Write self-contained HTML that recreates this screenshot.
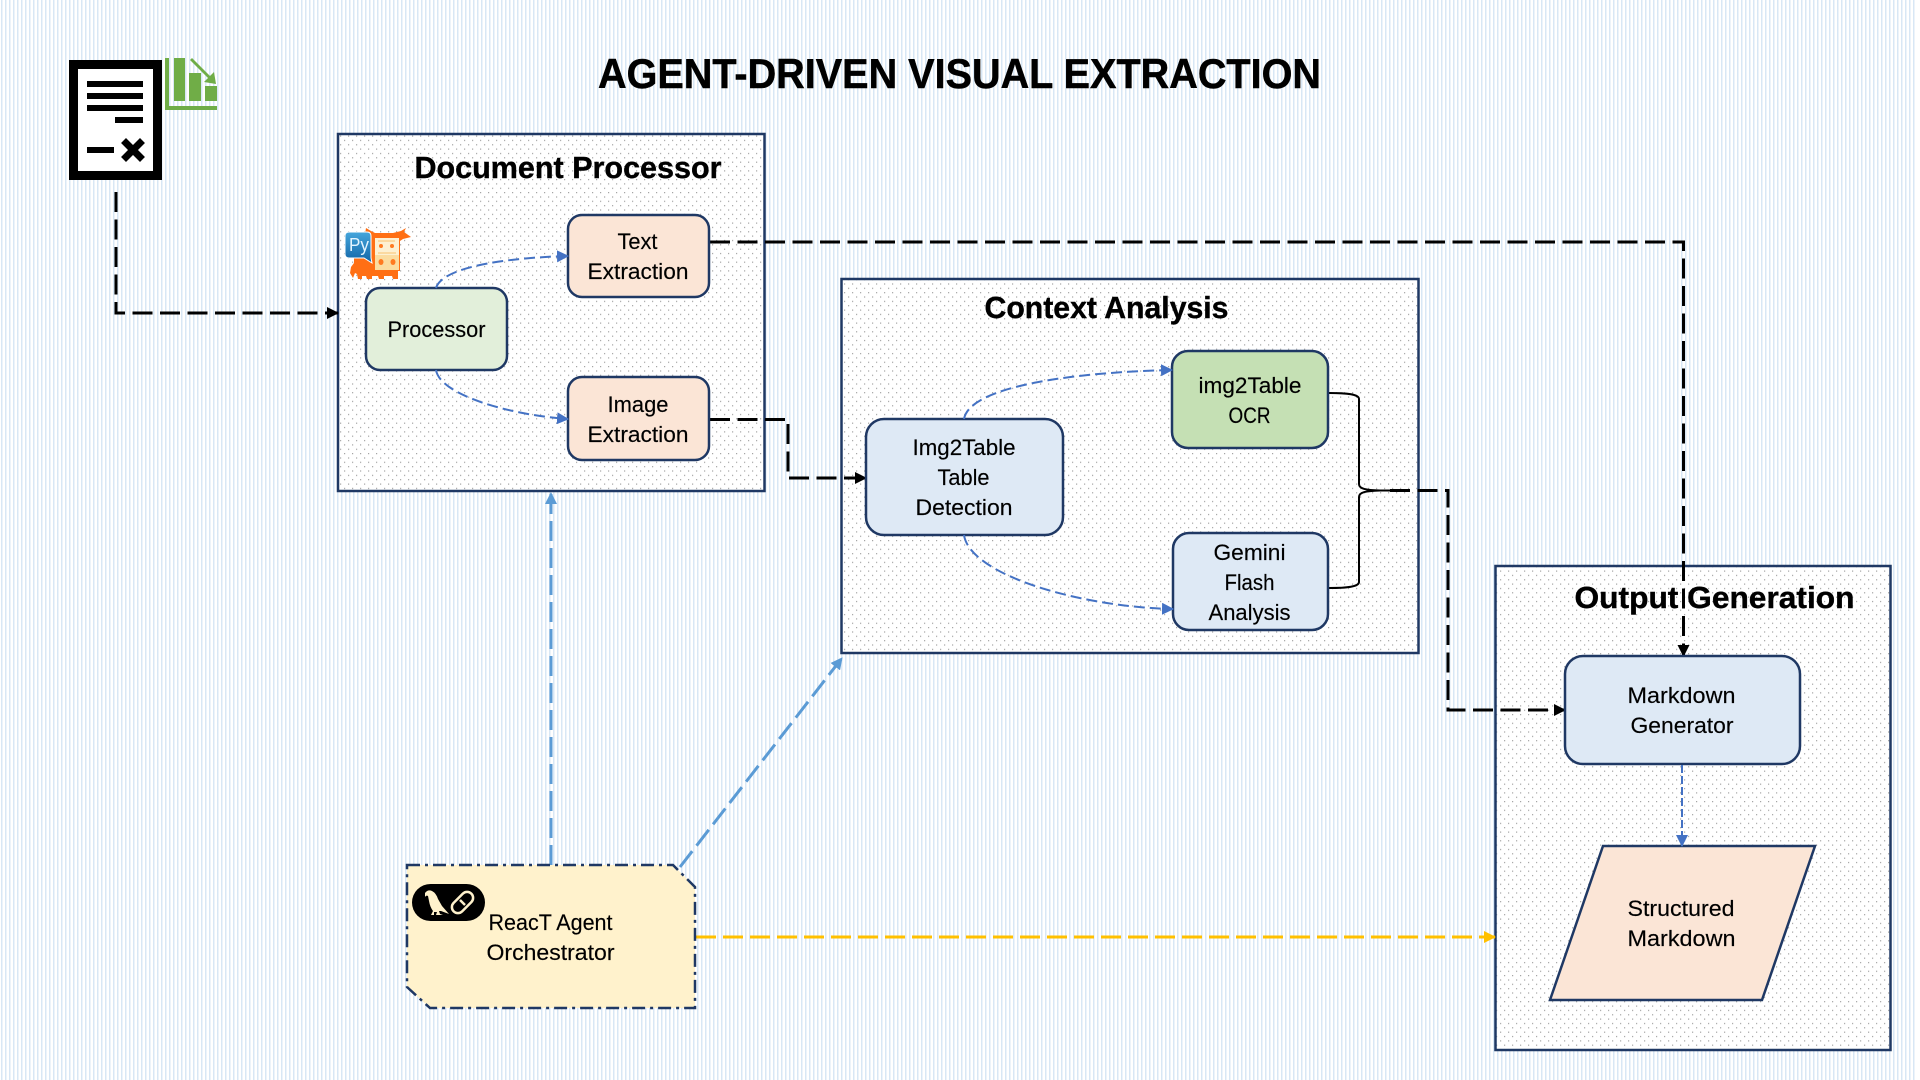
<!DOCTYPE html>
<html><head><meta charset="utf-8"><title>Agent-Driven Visual Extraction</title>
<style>html,body{margin:0;padding:0;background:#fff;width:1920px;height:1080px;overflow:hidden}svg{display:block}
text{font-family:"Liberation Sans",sans-serif;fill:#000}
.n{font-size:22px;stroke:#000;stroke-width:.15px}.h{font-size:31px;font-weight:bold;stroke:#000;stroke-width:.4px}</style></head><body>
<svg width="1920" height="1080" viewBox="0 0 1920 1080" xmlns="http://www.w3.org/2000/svg">
<defs>
<pattern id="st" width="4" height="4" patternUnits="userSpaceOnUse"><rect width="4" height="4" fill="#fff"/><rect x="1" width="1.500" height="4" fill="#d8e7f5"/></pattern>
<pattern id="dt" width="8" height="8.700" patternUnits="userSpaceOnUse" x="338" y="134"><rect width="8" height="8.700" fill="#fff"/><rect x="2" y="1.500" width="1.200" height="1.200" fill="#a4a4a4"/><rect x="6" y="5.800" width="1.200" height="1.200" fill="#a4a4a4"/></pattern>
<linearGradient id="py" x1="0" y1="0" x2="0" y2="1"><stop offset="0" stop-color="#45a6dc"/><stop offset="1" stop-color="#1264a6"/></linearGradient>
<marker id="ak" markerUnits="userSpaceOnUse" markerWidth="12" markerHeight="12" refX="11" refY="6" orient="auto"><path d="M0 0L12 6L0 12z" fill="#000"/></marker>
<marker id="ab" markerUnits="userSpaceOnUse" markerWidth="12" markerHeight="12" refX="11" refY="6" orient="auto"><path d="M0 0L12 6L0 12z" fill="#4472c4"/></marker>
<marker id="al" markerUnits="userSpaceOnUse" markerWidth="12" markerHeight="12" refX="11" refY="6" orient="auto"><path d="M0 0L12 6L0 12z" fill="#5b9bd5"/></marker>
<marker id="ay" markerUnits="userSpaceOnUse" markerWidth="12" markerHeight="12" refX="11" refY="6" orient="auto"><path d="M0 0L12 6L0 12z" fill="#ffc000"/></marker>
</defs>
<rect width="1920" height="1080" fill="url(#st)"/>
<rect x="1917" width="3" height="1080" fill="#fff"/>

<!-- panels -->
<g fill="url(#dt)" stroke="#1f3864" stroke-width="2.500">
<rect x="338" y="134" width="426.500" height="357"/>
<rect x="841.500" y="279" width="577" height="374"/>
<rect x="1495.500" y="566" width="395" height="484"/>
</g>

<!-- title -->
<text x="598" y="88" font-size="42" font-weight="bold" stroke="#000" stroke-width=".5" textLength="723" lengthAdjust="spacingAndGlyphs">AGENT-DRIVEN VISUAL EXTRACTION</text>
<text class="h" x="414.500" y="178" textLength="307" lengthAdjust="spacingAndGlyphs">Document Processor</text>
<text class="h" x="984.500" y="318" textLength="244" lengthAdjust="spacingAndGlyphs">Context Analysis</text>
<text class="h" x="1574.500" y="608" textLength="280" lengthAdjust="spacingAndGlyphs">Output Generation</text>

<!-- doc icon -->
<rect x="73.500" y="64.500" width="84" height="111" fill="#fff" stroke="#000" stroke-width="9"/>
<g fill="#000"><rect x="87" y="81" width="56" height="6"/><rect x="87" y="93" width="56" height="6"/><rect x="87" y="105" width="56" height="6"/><rect x="115" y="117" width="28" height="6"/><rect x="87" y="147" width="27" height="6"/></g>
<path d="M126 143L140 157M140 143L126 157" stroke="#000" stroke-width="7" stroke-linecap="square"/>
<!-- chart icon -->
<g fill="#70ad47"><path d="M165 58h4v48h48v4h-52z"/><rect x="174" y="58" width="11" height="43"/><rect x="189" y="73" width="12" height="28"/><rect x="205" y="86" width="12" height="15"/><path d="M192 58l18 18 4-4 2 12-12-2 4-4-18-18z"/></g>

<!-- python / cow icon -->
<path d="M366 228l5 3 4 2h18l8-2 5-3-2 4 7 5-8 2-3 2v30h-2v8h-5l-1-3h-8v3h-5l-1-3h-6v3h-5l-1-3h-4v3h-4l-1-5-2-1-2 5-3-5 1-6 3-4v-8h5v-3h3z" fill="#ff6f14"/>
<rect x="375" y="238" width="24" height="17" fill="#fdf0d2"/>
<rect x="375" y="255" width="24" height="15" fill="#fbdca0"/>
<g fill="#ff7a20"><rect x="378" y="240" width="17" height="2" fill="#fbd9a0"/><circle cx="381" cy="246" r="2"/><circle cx="392" cy="246" r="2"/><rect x="378" y="252" width="18" height="2" fill="#fbd9a0"/><ellipse cx="381" cy="262" rx="2.500" ry="3"/><ellipse cx="393" cy="262" rx="2.500" ry="3"/></g>
<path d="M349 232h18q4 0 4 4v22l1 5-8-5h-15q-4 0-4-4v-18q0-4 4-4z" fill="url(#py)" stroke="#fff" stroke-width="1"/>
<text x="349" y="251" font-size="18" style="fill:#e4f5ff" textLength="20" lengthAdjust="spacingAndGlyphs">Py</text>

<!-- react box connectors (under) -->
<g fill="none" stroke-width="3" stroke="#5b9bd5" stroke-dasharray="20 7">
<path d="M551 865V493" marker-end="url(#al)"/>
<path d="M680 867L842 658" marker-end="url(#al)"/>
</g>
<path d="M696 937H1495" fill="none" stroke="#ffc000" stroke-width="3" stroke-dasharray="20 7" marker-end="url(#ay)"/>

<!-- black connectors -->
<g fill="none" stroke="#000" stroke-width="3" stroke-dasharray="20 7.500">
<path d="M116 192V313H338" marker-end="url(#ak)"/>
<path d="M710 242H1683.500V656" marker-end="url(#ak)"/>
<path d="M710 419.500H788V478H866" marker-end="url(#ak)"/>
<path d="M1390 490.500H1448V710H1565" marker-end="url(#ak)"/>
</g>
<path d="M1329 393C1346 393 1359 394 1359 399V484C1359 489 1366 490 1380 490.500H1392M1380 490.500C1366 491 1359 492 1359 497V582C1359 587 1346 588 1329 588" fill="none" stroke="#000" stroke-width="2"/>

<!-- nodes -->
<g stroke="#1f3864" stroke-width="2.500">
<rect x="366" y="288" width="141" height="82" rx="14" fill="#e2efda"/>
<rect x="568" y="215" width="141" height="82" rx="14" fill="#fbe5d6"/>
<rect x="568" y="377" width="141" height="83" rx="14" fill="#fbe5d6"/>
<rect x="866" y="419" width="197" height="116" rx="18" fill="#dee9f5"/>
<rect x="1172" y="351" width="156" height="97" rx="16" fill="#c5e0b4"/>
<rect x="1173" y="533" width="155" height="97" rx="16" fill="#dee9f5"/>
<rect x="1565" y="656" width="235" height="108" rx="18" fill="#dee9f5"/>
<path d="M1603 846H1815L1762 1000H1550z" fill="#fbe5d6"/>
</g>
<path d="M407 865H673L695 887V1008H430L407 987z" fill="#fff2cc" stroke="#1f3864" stroke-width="2.500" stroke-dasharray="13 5 3 5"/>

<!-- blue connectors -->
<g fill="none" stroke="#4472c4" stroke-width="2">
<path d="M436 288C442 268 500 258 568 256" stroke-dasharray="11 5" marker-end="url(#ab)"/>
<path d="M436 370C440 395 510 415 568 419" stroke-dasharray="11 5" marker-end="url(#ab)"/>
<path d="M964 419C970 385 1080 372 1172 370" stroke-dasharray="11 5" marker-end="url(#ab)"/>
<path d="M964 535C970 575 1080 607 1173 609" stroke-dasharray="11 5" marker-end="url(#ab)"/>
<path d="M1682 765V846" stroke-dasharray="8 3" marker-end="url(#ab)"/>
</g>

<!-- node text -->
<g>
<text class="n" x="387.500" y="337" textLength="98" lengthAdjust="spacingAndGlyphs">Processor</text>
<text class="n" x="617.500" y="249" textLength="40" lengthAdjust="spacingAndGlyphs">Text</text>
<text class="n" x="587.500" y="279" textLength="101" lengthAdjust="spacingAndGlyphs">Extraction</text>
<text class="n" x="607.500" y="412" textLength="61" lengthAdjust="spacingAndGlyphs">Image</text>
<text class="n" x="587.500" y="442" textLength="101" lengthAdjust="spacingAndGlyphs">Extraction</text>
<text class="n" x="912.500" y="455" textLength="103" lengthAdjust="spacingAndGlyphs">Img2Table</text>
<text class="n" x="937.500" y="485" textLength="52" lengthAdjust="spacingAndGlyphs">Table</text>
<text class="n" x="915.500" y="515" textLength="97" lengthAdjust="spacingAndGlyphs">Detection</text>
<text class="n" x="1198.500" y="393" textLength="103" lengthAdjust="spacingAndGlyphs">img2Table</text>
<text class="n" x="1228.500" y="423" textLength="42" lengthAdjust="spacingAndGlyphs">OCR</text>
<text class="n" x="1213.500" y="560" textLength="72" lengthAdjust="spacingAndGlyphs">Gemini</text>
<text class="n" x="1224.500" y="590" textLength="50" lengthAdjust="spacingAndGlyphs">Flash</text>
<text class="n" x="1208.500" y="620" textLength="82" lengthAdjust="spacingAndGlyphs">Analysis</text>
<text class="n" x="1627.500" y="703" textLength="108" lengthAdjust="spacingAndGlyphs">Markdown</text>
<text class="n" x="1630.500" y="733" textLength="103" lengthAdjust="spacingAndGlyphs">Generator</text>
<text class="n" x="1627.500" y="916" textLength="107" lengthAdjust="spacingAndGlyphs">Structured</text>
<text class="n" x="1627.500" y="946" textLength="108" lengthAdjust="spacingAndGlyphs">Markdown</text>
<text class="n" x="488.500" y="930" textLength="124" lengthAdjust="spacingAndGlyphs">ReacT Agent</text>
<text class="n" x="486.500" y="960" textLength="128" lengthAdjust="spacingAndGlyphs">Orchestrator</text>
</g>

<!-- parrot/chain pill -->
<rect x="412" y="884" width="73" height="37" rx="18.500" fill="#000"/>
<path d="M425 893Q428 889 432 891Q436 893 438 899L442 906L449 914L441 911H439L440 914L443 915H436L437 912H434V915H431L433 911Q430 907 429 901L428 896Q426 895 425 897z" fill="#fff2cc"/>
<g fill="none" stroke="#fff2cc" stroke-width="2.500"><rect x="450" y="896.500" width="25" height="12" rx="6" transform="rotate(-45 462.500 902.500)"/><path d="M460 900l5 5"/></g>
</svg>
</body></html>
